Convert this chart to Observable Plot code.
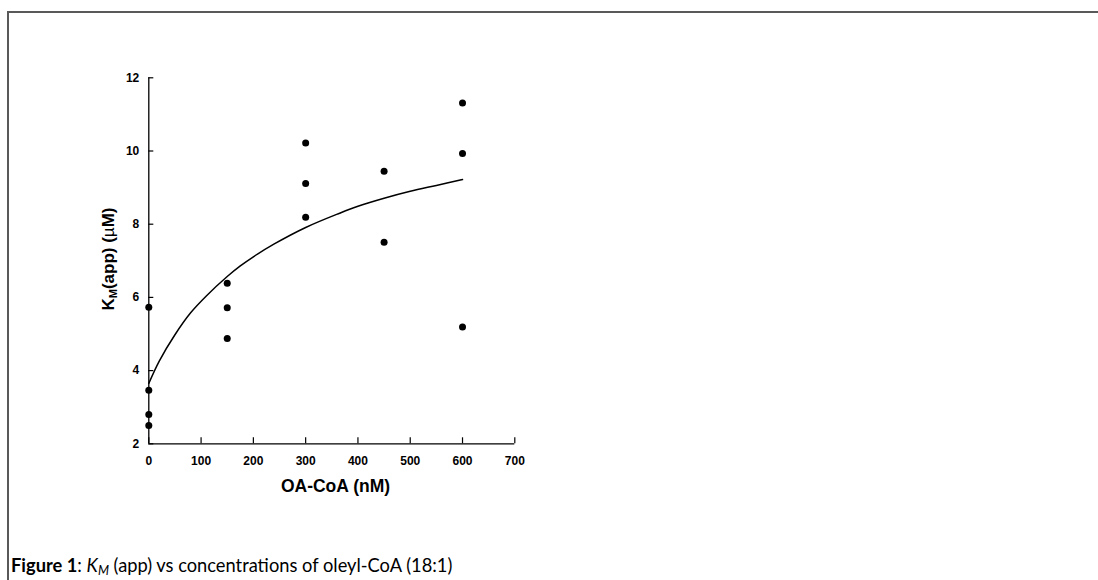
<!DOCTYPE html>
<html>
<head>
<meta charset="utf-8">
<script src="https://cdn.jsdelivr.net/npm/d3@7"></script>
<script src="https://cdn.jsdelivr.net/npm/@observablehq/plot@0.6"></script>
<style>
html, body { margin: 0; padding: 0; background: #fff; width: 1098px; height: 580px; overflow: hidden; }
#frame { position: absolute; left: 6.5px; top: 10.5px; width: 1100px; height: 600px; border-top: 2px solid #595959; border-left: 2px solid #595959; }
#chart { position: absolute; left: 20px; top: 20px; }
#caption { position: absolute; left: 11px; top: 555px; font-family: Lato, "Open Sans", sans-serif; font-size: 18.3px; color: #000; white-space: nowrap; line-height: 20px; }
#caption sub { font-size: 0.7em; vertical-align: -0.2em; line-height: 0; }
</style>
</head>
<body>
<div id="frame"></div>
<div id="chart"></div>
<div id="caption"><b>Figure 1</b>: <i>K<sub>M</sub></i> (app) vs concentrations of oleyl-CoA (18:1)</div>
<script>
// OA-CoA concentration (nM) of each measurement
const concentrations = [0, 0, 0, 0, 150, 150, 150, 300, 300, 300, 450, 450, 600, 600, 600];
// KM(app) (µM) of each measurement
const kmValues = [5.73, 3.46, 2.80, 2.50, 6.39, 5.72, 4.88, 10.22, 9.11, 8.19, 9.45, 7.51, 11.31, 9.93, 5.19];
// fitted curve
const fitX = [0, 20, 50, 80, 110, 150, 175, 200, 240, 300, 365, 400, 450, 500, 550, 600];
const fitY = [3.65, 4.26, 4.98, 5.58, 6.04, 6.57, 6.86, 7.11, 7.46, 7.91, 8.30, 8.49, 8.71, 8.90, 9.06, 9.22];
// axis ticks
const xTicks = [0, 100, 200, 300, 400, 500, 600, 700];
const yTicks = [2, 4, 6, 8, 10, 12];
const xLabel = "OA-CoA (nM)";

const points = concentrations.map((c, i) => ({x: c, y: kmValues[i]}));
const curve = fitX.map((c, i) => ({x: c, y: fitY[i]}));

const W = 540, H = 480, mL = 128.3, mR = 45.7, mT = 57.3, mB = 56.7;
const plotW = W - mL - mR, plotH = H - mT - mB;

const chart = Plot.plot({
  width: W, height: H,
  marginLeft: mL, marginRight: mR, marginTop: mT, marginBottom: mB,
  x: {domain: [0, 700]},
  y: {domain: [2, 12]},
  style: {background: "transparent", fontFamily: "'Liberation Sans', Arial, sans-serif", fontSize: "12px", fontWeight: "bold", color: "#000", overflow: "visible"},
  marks: [
    Plot.ruleX([0], {stroke: "#000", strokeWidth: 1.3}),
    Plot.ruleY([2], {stroke: "#000", strokeWidth: 1.3}),
    Plot.tickY(yTicks, {y: d => d, insetRight: plotW - 5, stroke: "#000", strokeWidth: 1.2}),
    Plot.tickX(xTicks, {x: d => d, insetTop: plotH - 6, stroke: "#000", strokeWidth: 1.2}),
    Plot.axisY({ticks: yTicks, tickSize: 0, tickPadding: 9.5, label: null, fill: "#000"}),
    Plot.axisX({ticks: xTicks, tickSize: 0, tickPadding: 12.2, label: null, fill: "#000"}),
    Plot.line(curve, {x: "x", y: "y", curve: "catmull-rom", stroke: "#000", strokeWidth: 1.5}),
    Plot.dot(points, {x: "x", y: "y", r: 3.5, fill: "#000", stroke: "none"})
  ]
});
document.getElementById("chart").appendChild(chart);

const svg = d3.select(chart);
svg.append("text")
  .attr("x", 315.5).attr("y", 471.5)
  .attr("text-anchor", "middle")
  .style("font-family", "'Liberation Sans', Arial, sans-serif")
  .style("font-size", "17.5px").style("font-weight", "bold").attr("fill", "#000")
  .text(xLabel);

const yl = svg.append("text")
  .attr("transform", "translate(94,239) rotate(-90)")
  .attr("text-anchor", "middle")
  .style("font-family", "'Liberation Sans', Arial, sans-serif")
  .style("font-size", "17px").style("font-weight", "bold").attr("fill", "#000");
yl.append("tspan").text("K");
yl.append("tspan").attr("dy", "0.3em").style("font-size", "11px").text("M");
yl.append("tspan").attr("dy", "-0.2em").text("(app) (");
yl.append("tspan").style("font-weight", "normal").text("µ");
yl.append("tspan").text("M)");
</script>
</body>
</html>
